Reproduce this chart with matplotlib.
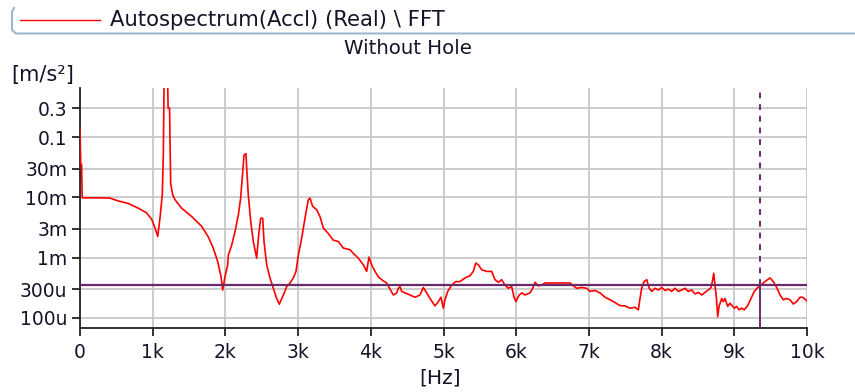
#!/usr/bin/env python3
from __future__ import annotations

import matplotlib

matplotlib.use("Agg")
import matplotlib.pyplot as plt
from matplotlib.lines import Line2D
from matplotlib.ticker import FixedLocator, NullLocator


# spectrum (Hz, m/s^2)
freq_hz = [
    0, 10, 22, 30, 100, 250, 413, 527, 665, 802, 917, 986, 1032, 1069, 1100, 1132, 1146,
    1160, 1200, 1212, 1232, 1247, 1275, 1307, 1398, 1536, 1674, 1765, 1834, 1894, 1940,
    1963, 1994, 2032, 2040, 2086, 2132, 2178, 2210, 2238, 2256, 2283, 2293, 2315, 2348,
    2384, 2430, 2458, 2485, 2513, 2531, 2568, 2613, 2659, 2705, 2742, 2797, 2843, 2889,
    2934, 2971, 3003, 3049, 3095, 3140, 3164, 3200, 3256, 3301, 3347, 3416, 3484, 3553,
    3622, 3714, 3759, 3828, 3897, 3943, 3975, 4012, 4058, 4103, 4172, 4218, 4264, 4310,
    4356, 4379, 4402, 4425, 4470, 4539, 4608, 4677, 4722, 4769, 4814, 4883, 4929, 4966,
    4997, 5021, 5058, 5113, 5168, 5227, 5296, 5364, 5410, 5443, 5479, 5525, 5594, 5663,
    5708, 5754, 5800, 5846, 5891, 5938, 5970, 5997, 6015, 6043, 6076, 6121, 6190, 6227,
    6259, 6304, 6350, 6396, 6511, 6648, 6740, 6786, 6832, 6901, 6970, 7015, 7084, 7153,
    7222, 7290, 7359, 7428, 7497, 7565, 7634, 7680, 7703, 7726, 7758, 7795, 7831, 7864,
    7909, 7955, 8001, 8047, 8092, 8139, 8184, 8230, 8276, 8322, 8367, 8414, 8459, 8505,
    8552, 8597, 8643, 8680, 8698, 8717, 8735, 8753, 8772, 8790, 8827, 8848, 8872, 8909,
    8941, 8972, 9000, 9033, 9065, 9102, 9137, 9184, 9230, 9275, 9322, 9367, 9422, 9491,
    9537, 9583, 9629, 9674, 9720, 9766, 9812, 9858, 9904, 9940, 9982, 10000,
]
accel = [
    0.14, 0.035, 0.035, 0.0098, 0.0098, 0.0098, 0.0097, 0.0087, 0.0079, 0.0066, 0.0055,
    0.0043, 0.0031, 0.00224, 0.0045, 0.011, 0.050,
    2.0, 2.0, 0.3, 0.3, 0.017, 0.011, 0.0091, 0.0066, 0.0048, 0.0033, 0.0022, 0.00143,
    0.00086, 0.00048,
    0.00029, 0.00048, 0.00076, 0.0011, 0.0016, 0.0027, 0.0051, 0.0097, 0.027, 0.050, 0.053,
    0.030, 0.011, 0.0040,
    0.00185, 0.00098, 0.0024, 0.0045, 0.0045, 0.00185, 0.00076, 0.00046, 0.00031, 0.00021,
    0.000169, 0.00024, 0.00033, 0.00038,
    0.00046, 0.00059, 0.0011, 0.0021, 0.0045, 0.0091, 0.0097, 0.0071, 0.0062, 0.0048,
    0.0031, 0.0025, 0.00195, 0.00185,
    0.00144, 0.00135, 0.00118, 0.00098, 0.00076, 0.00059, 0.00102, 0.00076, 0.00059,
    0.00048, 0.00041, 0.00038, 0.00030, 0.00024,
    0.00026, 0.00031, 0.00033, 0.000275, 0.00026, 0.00024, 0.00022, 0.00024, 0.00032,
    0.00026, 0.00021, 0.000158, 0.000186, 0.00022,
    0.000145, 0.00020, 0.000275, 0.00035, 0.00040, 0.00040, 0.00046, 0.00050, 0.00059,
    0.00081, 0.00076, 0.00063, 0.00059, 0.00059,
    0.00043, 0.00039, 0.00043, 0.00035, 0.00031, 0.00033, 0.00022, 0.000186, 0.00021,
    0.00024, 0.00026, 0.00024, 0.00026, 0.00031,
    0.00039, 0.00034, 0.00035, 0.00038, 0.00038, 0.00038, 0.00038, 0.00034, 0.00031,
    0.00032, 0.00031, 0.000275, 0.000285, 0.00026,
    0.00022, 0.00020, 0.00018, 0.00016, 0.000158, 0.000145, 0.00015, 0.000136, 0.00021,
    0.00031, 0.00040, 0.00043, 0.00031, 0.000275,
    0.00031, 0.00029, 0.00032, 0.000285, 0.00030, 0.000275, 0.00031, 0.000275, 0.00029,
    0.00031, 0.000275, 0.00029, 0.00025, 0.000265,
    0.00024, 0.000265, 0.00029, 0.00032, 0.00040, 0.00055, 0.00035, 0.00022, 0.000105,
    0.000155, 0.00021, 0.000186, 0.00021, 0.000155,
    0.000175, 0.000158, 0.000145, 0.000155, 0.000136, 0.000145, 0.000136, 0.00016,
    0.00021, 0.000275, 0.00032, 0.00035, 0.00040, 0.00046,
    0.00040, 0.00032, 0.00024, 0.00020, 0.00021, 0.00020, 0.00017, 0.000186, 0.00022,
    0.00022, 0.00020, 0.00019,
]

x_ticks = [0, 1000, 2000, 3000, 4000, 5000, 6000, 7000, 8000, 9000, 10000]
x_tick_labels = ["0", "1k", "2k", "3k", "4k", "5k", "6k", "7k", "8k", "9k", "10k"]
y_ticks = [0.3, 0.1, 0.03, 0.01, 0.003, 0.001, 0.0003, 0.0001]
y_tick_labels = ["0.3", "0.1", "30m", "10m", "3m", "1m", "300u", "100u"]

cursor_freq = 9360
cursor_level = 0.00035

TEXT = "#141428"
GRID = "#c8c8c8"
CURSOR = "#6a2a6a"


def main() -> None:
    plt.rcParams["font.family"] = ["DejaVu Sans"]
    fig = plt.figure(figsize=(8.55, 3.92), dpi=100)
    ax = fig.add_axes([80 / 855, 1 - 328 / 392, 727 / 855, 240 / 392])

    ax.set_yscale("log")
    ax.set_xlim(0, 10000)
    ax.set_ylim(6.8e-5, 0.65)

    ax.plot(freq_hz, accel, color="#ff0000", lw=1.2, zorder=3)

    # cursor crosshair
    ax.axhline(cursor_level, color=CURSOR, lw=1.6, zorder=4)
    ax.plot([cursor_freq, cursor_freq], [cursor_level, 0.65], color=CURSOR, lw=1.4,
            ls=(0, (3, 3)), zorder=4)
    ax.plot([cursor_freq, cursor_freq], [6.8e-5, cursor_level], color=CURSOR, lw=1.4, zorder=4)

    ax.xaxis.set_major_locator(FixedLocator(x_ticks))
    ax.set_xticklabels(x_tick_labels)
    ax.yaxis.set_major_locator(FixedLocator(y_ticks))
    ax.set_yticklabels(y_tick_labels)
    ax.yaxis.set_minor_locator(NullLocator())

    ax.grid(True, color=GRID, lw=1.3)
    ax.set_axisbelow(True)
    for side in ("top", "right"):
        ax.spines[side].set_visible(False)
    for side in ("left", "bottom"):
        ax.spines[side].set_linewidth(1.3)
        ax.spines[side].set_color("#222222")
    ax.tick_params(axis="both", length=6, width=1.3, color="#222222", labelsize=13.5,
                   labelcolor=TEXT, pad=3)
    ax.tick_params(axis="x", pad=5)

    fig.text(440 / 855, 1 - 378 / 392, "[Hz]", ha="center", va="center", fontsize=14.5, color=TEXT)
    fig.text(11 / 855, 1 - 75 / 392, "[m/s²]", ha="left", va="center", fontsize=15, color=TEXT)
    fig.text(408 / 855, 1 - 49 / 392, "Without Hole", ha="center", va="center", fontsize=14.2,
             color=TEXT)

    # legend strip
    fx = [14 / 855, 12 / 855, 12 / 855, 16 / 855, 1.0]
    fy = [1 - 8 / 392, 1 - 12 / 392, 1 - 30 / 392, 1 - 33.5 / 392, 1 - 33.5 / 392]
    fig.add_artist(Line2D(fx, fy, transform=fig.transFigure, color="#9fb6cf", lw=1.5))
    fig.add_artist(Line2D([20 / 855, 100 / 855], [1 - 20 / 392] * 2, transform=fig.transFigure,
                          color="#ff0000", lw=1.0))
    fig.text(110 / 855, 1 - 20 / 392, "Autospectrum(Accl) (Real) \\ FFT", ha="left",
             va="center", fontsize=15.2, color=TEXT)

    fig.savefig("out.png", dpi=100)
    plt.close(fig)


if __name__ == "__main__":
    main()
